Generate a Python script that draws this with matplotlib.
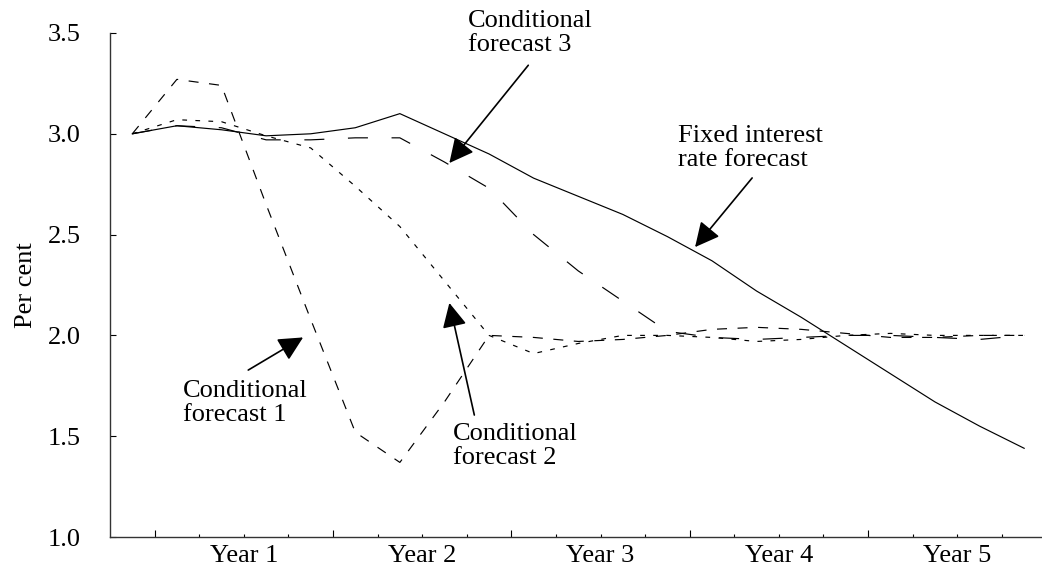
import matplotlib
matplotlib.use("Agg")
import matplotlib.pyplot as plt

# ---- data (quarterly points) ----
quarters = list(range(21))
fixed_rate = [3.0, 3.04, 3.02, 2.99, 3.0, 3.03, 3.10, 3.0, 2.90, 2.78, 2.69,
              2.60, 2.49, 2.37, 2.22, 2.09, 1.95, 1.81, 1.67, 1.55, 1.44]
cond1 = [3.0, 3.27, 3.24, 2.65, 2.08, 1.52, 1.37, 1.67, 2.0, 1.99, 1.97,
         1.98, 2.0, 2.03, 2.04, 2.03, 2.01, 1.99, 1.99, 2.0, 2.0]
cond2 = [3.0, 3.07, 3.06, 2.99, 2.93, 2.74, 2.54, 2.27, 2.0, 1.91, 1.96,
         2.0, 2.0, 1.99, 1.97, 1.98, 2.0, 2.01, 2.0, 2.0, 2.0]
cond3 = [3.0, 3.04, 3.03, 2.97, 2.97, 2.98, 2.98, 2.86, 2.73, 2.50, 2.32,
         2.17, 2.02, 1.99, 1.98, 1.99, 2.0, 2.0, 1.99, 1.98, 2.0]
year_labels = ["Year 1", "Year 2", "Year 3", "Year 4", "Year 5"]
y_ticks = [1.0, 1.5, 2.0, 2.5, 3.0, 3.5]

plt.rcParams['font.family'] = ['Liberation Serif', 'DejaVu Serif']
plt.rcParams['lines.scale_dashes'] = False
FS = 19

fig = plt.figure(figsize=(10.42, 5.72), dpi=100)
ax = fig.add_axes([110/1042, 1-537/572, 1-110/1042, (537-33)/572])

lw = 0.85
ax.plot(quarters, fixed_rate, color='black', lw=lw, solid_joinstyle='miter')
ax.plot(quarters, cond1, color='black', lw=lw, dashes=(7.2, 7.6))
ax.plot(quarters, cond2, color='black', lw=lw, dashes=(3.4, 6.0))
ax.plot(quarters, cond3, color='black', lw=lw, dashes=(14.4, 17.0))

ax.set_xlim(-0.5, 20.4)
ax.set_ylim(1.0, 3.5)

for s in ['top', 'right']:
    ax.spines[s].set_visible(False)
for s in ['left', 'bottom']:
    ax.spines[s].set_linewidth(1.0)
    ax.spines[s].set_color('#333333')

ax.set_yticks(y_ticks)
ax.set_yticklabels([f"{v:.1f}" for v in y_ticks], fontsize=FS)
ax.tick_params(axis='y', direction='in', length=4.5, width=0.8, pad=21)

major_x = [0.5 + 4*i for i in range(5)]
minor_x = [k + 0.5 for k in range(20) if (k + 0.5) not in major_x]
minor_labels = []
for m in minor_x:
    lab = ""
    for i in range(5):
        if abs(m - (2.5 + 4*i)) < 1e-9:
            lab = year_labels[i]
    minor_labels.append(lab)
ax.set_xticks(major_x)
ax.set_xticklabels([""] * len(major_x))
ax.set_xticks(minor_x, minor=True)
ax.set_xticklabels(minor_labels, minor=True, fontsize=FS)
ax.tick_params(axis='x', which='major', direction='in', length=5, width=0.8)
ax.tick_params(axis='x', which='minor', direction='in', length=2.2, width=0.8, pad=6)

ax.set_ylabel("Per cent", fontsize=FS)
ax.yaxis.set_label_coords(-0.078, 0.5)

arrow_kw = dict(arrowstyle='-|>,head_length=1.0,head_width=0.5',
                color='black', lw=1.2, mutation_scale=15, shrinkA=0, shrinkB=0)

LS = 1.1
# Conditional forecast 3
ax.text(7.53, 3.50, "Conditional\nforecast 3", fontsize=FS, ha='left', va='center',
        linespacing=LS)
ax.annotate("", xy=(7.11, 2.855), xytext=(8.88, 3.34), arrowprops=arrow_kw)

# Fixed interest rate forecast
ax.text(12.24, 2.93, "Fixed interest\nrate forecast", fontsize=FS, ha='left', va='center',
        linespacing=LS)
ax.annotate("", xy=(12.62, 2.438), xytext=(13.90, 2.781), arrowprops=arrow_kw)

# Conditional forecast 1
ax.text(1.14, 1.665, "Conditional\nforecast 1", fontsize=FS, ha='left', va='center',
        linespacing=LS)
ax.annotate("", xy=(3.83, 1.99), xytext=(2.60, 1.828), arrowprops=arrow_kw)

# Conditional forecast 2
ax.text(7.19, 1.45, "Conditional\nforecast 2", fontsize=FS, ha='left', va='center',
        linespacing=LS)
ax.annotate("", xy=(7.11, 2.161), xytext=(7.67, 1.605), arrowprops=arrow_kw)

fig.savefig("out.png", dpi=100)
